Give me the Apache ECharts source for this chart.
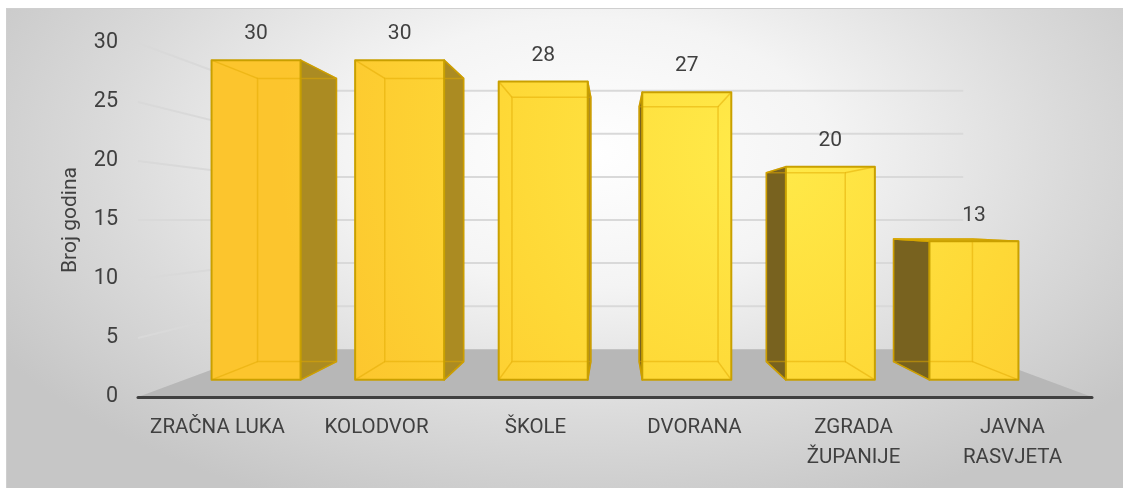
<!DOCTYPE html>
<html>
<head>
<meta charset="utf-8">
<script src="https://cdn.jsdelivr.net/npm/echarts@6/dist/echarts.min.js"></script>
<style>
  html, body { margin: 0; padding: 0; background: #ffffff; }
  #wrap { position: relative; width: 1123px; height: 488px; overflow: hidden; }
  #bg { position: absolute; left: 6px; top: 8px; right: 0; bottom: 0;
        border-top: 1px solid #cfcfcf; border-left: 1px solid #cfcfcf;
        background: radial-gradient(ellipse 62% 80% at 52% 30%, #ffffff 0%, #f4f4f4 35%, #dadada 70%, #c6c6c6 100%); }
  #chart { position: absolute; left: 0; top: 0; width: 1123px; height: 488px; }
</style>
</head>
<body>
<div id="wrap"><div id="bg"></div><div id="chart"></div></div>
<script>
// ---- data ----
const categories = ['ZRAČNA LUKA', 'KOLODVOR', 'ŠKOLE', 'DVORANA', 'ZGRADA\nŽUPANIJE', 'JAVNA\nRASVJETA'];
const values = [30, 30, 28, 27, 20, 13];
const yTicks = [0, 5, 10, 15, 20, 25, 30];
const axisTitle = 'Broj godina';

// ---- perspective styling constants ----
const DEPTH_BACK_WALL = 0.73;
const DEPTH_BAR_FRONT = 0.903;
const DEPTH_BAR_BACK = 0.80;
const BAR_HALF = 0.31;
const FONT = 'Roboto, "Liberation Sans", sans-serif';
const TEXT = '#404040';

function proj(vx, vy, x, y, s) { return [vx + (x - vx) * s, vy + (y - vy) * s]; }

const chart = echarts.init(document.getElementById('chart'), null, { renderer: 'canvas' });

const frontFill = new echarts.graphic.RadialGradient(760, 150, 480, [
  { offset: 0, color: '#FFEB4A' },
  { offset: 0.55, color: '#FED836' },
  { offset: 1, color: '#FCC52D' }
], true);

function renderWalls(params, api) {
  const cs = params.coordSys;
  const vx = cs.x + cs.width / 2, vy = cs.y + cs.height / 2;
  const t = api.value(1);
  const y = api.coord([0, t])[1];
  const L = cs.x, R = cs.x + cs.width;
  const bl = proj(vx, vy, L, y, DEPTH_BACK_WALL);
  const br = proj(vx, vy, R, y, DEPTH_BACK_WALL);
  if (t === yTicks[0]) {
    return {
      type: 'polygon',
      shape: { points: [[L, y], [R, y], br, bl] },
      style: { fill: '#b7b7b7', stroke: null }
    };
  }
  return {
    type: 'polyline',
    shape: { points: [[L, y], bl, br] },
    style: { stroke: '#d9d9d9', lineWidth: 2, fill: null }
  };
}

function renderBars(params, api) {
  const cs = params.coordSys;
  const vx = cs.x + cs.width / 2, vy = cs.y + cs.height / 2;
  const i = api.value(0), v = api.value(1);
  const top = api.coord([i, v]);
  const bot = api.coord([i, 0]);
  const band = api.size([1, 0])[0];
  const cx = top[0];
  const x0 = cx - band * BAR_HALF, x1 = cx + band * BAR_HALF;
  const yt = top[1], yb = bot[1];
  const P = (x, y, s) => proj(vx, vy, x, y, s);
  const f = [P(x0, yt, DEPTH_BAR_FRONT), P(x1, yt, DEPTH_BAR_FRONT), P(x1, yb, DEPTH_BAR_FRONT), P(x0, yb, DEPTH_BAR_FRONT)];
  const b = [P(x0, yt, DEPTH_BAR_BACK), P(x1, yt, DEPTH_BAR_BACK), P(x1, yb, DEPTH_BAR_BACK), P(x0, yb, DEPTH_BAR_BACK)];
  const children = [];
  const rightSide = cx < vx;
  const side = rightSide ? [f[1], b[1], b[2], f[2]] : [f[0], b[0], b[3], f[3]];
  children.push({
    type: 'polygon', shape: { points: side },
    style: { fill: rightSide ? '#AB8B22' : '#78621F', stroke: '#B99300', lineWidth: 1.5, lineJoin: 'round' }
  });
  if (yt > vy) {
    children.push({
      type: 'polygon', shape: { points: [f[0], f[1], b[1], b[0]] },
      style: { fill: '#E9C22C', stroke: '#C9A000', lineWidth: 1.5 }
    });
  }
  children.push({
    type: 'polygon', shape: { points: f },
    style: { fill: frontFill, stroke: null }
  });
  const inner = 'rgba(226,170,0,0.5)';
  children.push({ type: 'polygon', shape: { points: b }, style: { fill: null, stroke: inner, lineWidth: 1.5 } });
  for (let k = 0; k < 4; k++) {
    children.push({ type: 'line', shape: { x1: f[k][0], y1: f[k][1], x2: b[k][0], y2: b[k][1] }, style: { stroke: inner, lineWidth: 1.5 } });
  }
  children.push({
    type: 'polygon', shape: { points: f },
    style: { fill: null, stroke: '#C9A000', lineWidth: 2, lineJoin: 'round' }
  });
  children.push({
    type: 'text',
    x: (f[0][0] + f[1][0]) / 2, y: f[0][1] - 26,
    style: { text: String(v), fill: TEXT, font: '21px ' + FONT, align: 'center', verticalAlign: 'middle' }
  });
  return { type: 'group', children: children };
}

chart.setOption({
  backgroundColor: 'transparent',
  animation: false,
  grid: { left: 138, top: 43, width: 954, height: 354, containLabel: false },
  xAxis: {
    type: 'category',
    data: categories,
    z: 5,
    axisLine: { show: true, lineStyle: { color: '#404040', width: 3 } },
    axisTick: { show: false },
    splitLine: { show: false },
    axisLabel: { fontSize: 20.5, fontFamily: FONT, color: TEXT, margin: 16, lineHeight: 30, interval: 0 }
  },
  yAxis: {
    type: 'value',
    min: 0, max: 30, interval: 5,
    name: axisTitle,
    nameLocation: 'middle',
    nameRotate: 90,
    nameGap: 57,
    nameTextStyle: { fontSize: 21, fontFamily: FONT, color: TEXT },
    axisLine: { show: false },
    axisTick: { show: false },
    splitLine: { show: false },
    axisLabel: { fontSize: 21.5, fontFamily: FONT, color: TEXT, margin: 20 }
  },
  series: [
    {
      type: 'custom', name: 'walls', coordinateSystem: 'cartesian2d', z: 1, clip: false, silent: true,
      renderItem: renderWalls,
      data: yTicks.map(t => [0, t])
    },
    {
      type: 'custom', name: 'Broj godina', coordinateSystem: 'cartesian2d', z: 2, clip: false,
      renderItem: renderBars,
      data: values.map((v, i) => [i, v])
    }
  ]
});
</script>
</body>
</html>
